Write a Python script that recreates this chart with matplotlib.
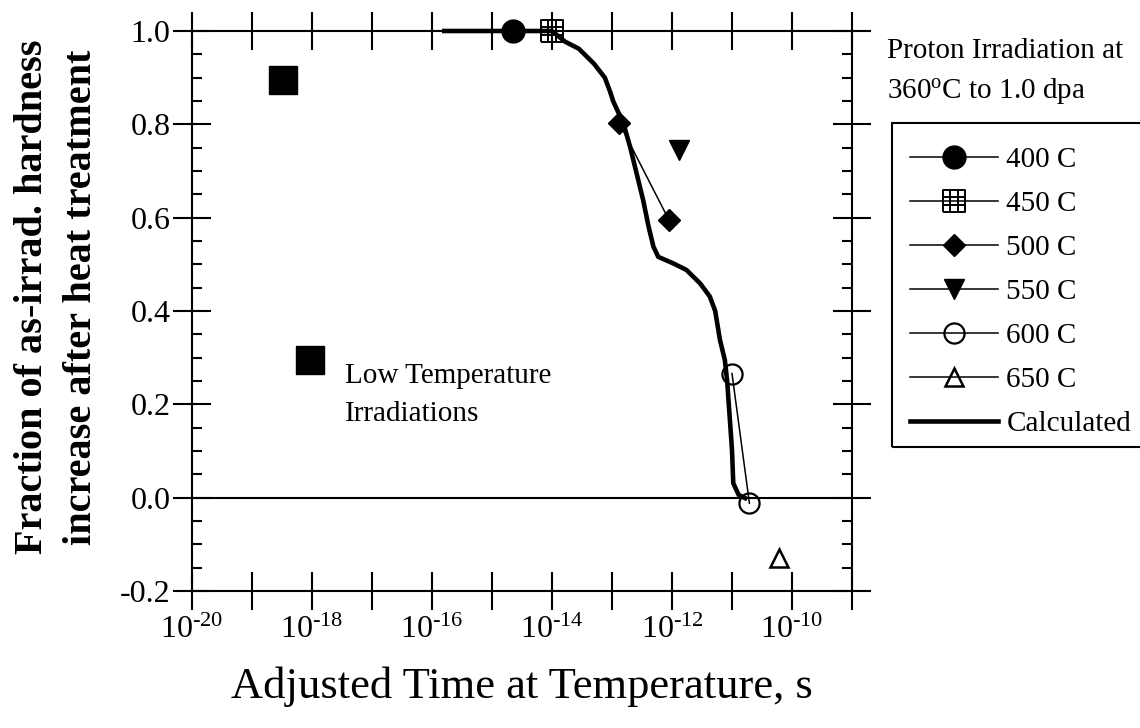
import numpy as np
import matplotlib
matplotlib.use("Agg")
import matplotlib.pyplot as plt
from matplotlib.path import Path
from matplotlib.patches import Rectangle
from matplotlib.ticker import FixedLocator, MultipleLocator, FuncFormatter, NullLocator

plt.rcParams['font.family'] = ['Liberation Serif', 'DejaVu Serif']
plt.rcParams['mathtext.fontset'] = 'custom'
plt.rcParams['mathtext.rm'] = 'Liberation Serif'
plt.rcParams['mathtext.it'] = 'Liberation Serif:italic'
plt.rcParams['mathtext.bf'] = 'Liberation Serif:bold'

# ---- data --------------------------------------------------------------
t400 = [2.2e-15]; f400 = [1.0]
t450 = [1.0e-14]; f450 = [1.0]
t500 = [1.32e-13, 8.9e-13]; f500 = [0.803, 0.595]
t550 = [1.3e-12]; f550 = [0.745]
t600 = [1.0e-11, 1.95e-11]; f600 = [0.266, -0.012]
t650 = [6.0e-11]; f650 = [-0.129]
t_low = [3.3e-19, 9.3e-19]; f_low = [0.895, 0.295]

calc_t = [1.6e-16, 1.0e-14, 1.66e-14, 2.8e-14, 5.0e-14, 7.6e-14, 9.3e-14, 1.05e-13,
          1.55e-13, 2.0e-13, 2.57e-13, 3.3e-13, 4.07e-13, 4.9e-13, 5.9e-13, 1.05e-12,
          1.74e-12, 2.95e-12, 4.27e-12, 5.25e-12, 6.3e-12, 7.6e-12, 8.3e-12, 8.9e-12,
          1.0e-11, 1.05e-11, 1.29e-11, 1.66e-11]
calc_f = [1.0, 1.0, 0.977, 0.962, 0.930, 0.900, 0.870, 0.849,
          0.802, 0.752, 0.695, 0.638, 0.581, 0.538, 0.516, 0.502,
          0.488, 0.459, 0.431, 0.400, 0.338, 0.295, 0.250, 0.195,
          0.102, 0.031, 0.006, -0.001]

decades = list(range(-20, -8))
labelled = [-20, -18, -16, -14, -12, -10]

# square with a 3x3 grid inside, for the 450 C points
MV, LN = Path.MOVETO, Path.LINETO
grid_verts = [(-1, -1), (1, -1), (1, 1), (-1, 1), (-1, -1),
              (-1/3, -1), (-1/3, 1), (1/3, -1), (1/3, 1),
              (-1, -1/3), (1, -1/3), (-1, 1/3), (1, 1/3)]
grid_codes = [MV, LN, LN, LN, LN, MV, LN, MV, LN, MV, LN, MV, LN]
grid_marker = Path(grid_verts, grid_codes)

# ---- figure ------------------------------------------------------------
W, H = 1140, 728
fig = plt.figure(figsize=(W / 100, H / 100), dpi=100)
ax = fig.add_axes([192/W, 1 - 591/H, 660/W, 560/H])

kw = dict(color='k', lw=1.1, clip_on=False, zorder=4)
calc, = ax.plot(calc_t, calc_f, color='k', lw=3.3, clip_on=False, zorder=3,
                solid_joinstyle='round', label='Calculated')
h400, = ax.plot(t400, f400, marker='o', ms=16.5, label='400 C', **kw)
h450, = ax.plot(t450, f450, marker=grid_marker, ms=16.5, mew=1.4, mfc='none',
                label='450 C', **kw)
h500, = ax.plot(t500, f500, marker='D', ms=11.5, label='500 C', **kw)
h550, = ax.plot(t550, f550, marker='v', ms=15, label='550 C', **kw)
h600, = ax.plot(t600, f600, marker='o', ms=14.5, mfc='none', mew=1.6,
                label='600 C', **kw)
h650, = ax.plot(t650, f650, marker='^', ms=13, mfc='none', mew=1.8,
                label='650 C', **kw)
ax.plot(t_low, f_low, ls='none', marker='s', ms=19.5, color='k', clip_on=False, zorder=4)

ax.axhline(0, color='k', lw=1.5, zorder=2)

ax.set_xscale('log')
ax.set_xlim(1e-20, 1e-9)
ax.set_ylim(-0.2, 1.0)

ax.xaxis.set_major_locator(FixedLocator([10.0 ** k for k in decades]))
ax.xaxis.set_minor_locator(NullLocator())
ax.xaxis.set_major_formatter(FuncFormatter(
    lambda v, p: r'$10^{\text{-%d}}$' % abs(round(np.log10(v)))
    if round(np.log10(v)) in labelled else ''))
ax.yaxis.set_major_locator(MultipleLocator(0.2))
ax.yaxis.set_minor_locator(MultipleLocator(0.05))
ax.yaxis.set_major_formatter(FuncFormatter(
    lambda v, p: f'{0.0 if abs(v) < 1e-9 else v:.1f}'))

ax.tick_params(which='major', direction='inout', length=27, width=1.5,
               top=True, right=True, labelsize=23, pad=2)
ax.tick_params(axis='x', which='major', pad=4)
ax.tick_params(axis='y', which='minor', direction='in', length=7.5, width=1.5,
               left=True, right=True)
for s in ax.spines.values():
    s.set_linewidth(1.5)

ax.set_xlabel('Adjusted Time at Temperature, s', fontsize=32, labelpad=16)
fig.text(57/W, 1 - 297/H,
         'Fraction of as-irrad. hardness\nincrease after heat treatment',
         rotation=90, ha='center', va='center', ma='center',
         fontsize=29, fontweight='bold', linespacing=1.45)

ax.text(3.5e-18, 0.22, 'Low Temperature\nIrradiations', fontsize=21,
        ha='left', va='center', linespacing=1.62)

fig.text(887/W, 1 - 72/H, 'Proton Irradiation at\n360$^{\\mathrm{o}}$C to 1.0 dpa',
         fontsize=21, ha='left', va='center', linespacing=1.5)

# legend box: left, top and bottom edges; right edge runs off the figure
fig.patches.append(Rectangle((892/W, 1 - 447/H), 280/W, 324/H, transform=fig.transFigure,
                             fill=False, edgecolor='k', lw=1.5))
leg = fig.legend(handles=[h400, h450, h500, h550, h600, h650, calc],
                 loc='upper left', bbox_to_anchor=(910/W, 1 - 147/H),
                 borderaxespad=0, borderpad=0, fontsize=21, frameon=False,
                 handlelength=3.0, handletextpad=0.3, labelspacing=0.6)

fig.savefig('out.png', dpi=100)
